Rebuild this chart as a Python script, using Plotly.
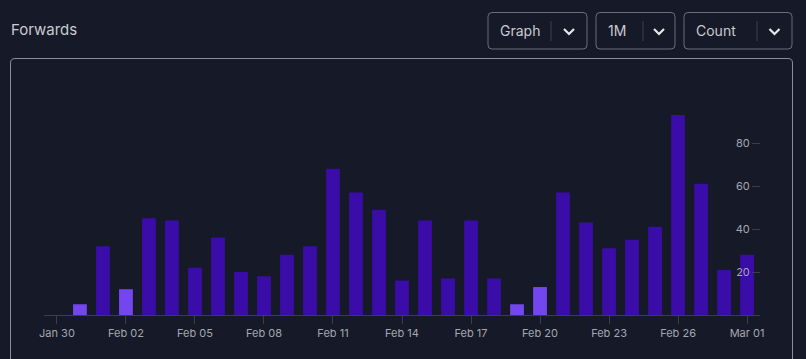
import plotly.graph_objects as go

# ---- data ----
dates = ["2023-01-31", "2023-02-01", "2023-02-02", "2023-02-03", "2023-02-04", "2023-02-05",
         "2023-02-06", "2023-02-07", "2023-02-08", "2023-02-09", "2023-02-10", "2023-02-11",
         "2023-02-12", "2023-02-13", "2023-02-14", "2023-02-15", "2023-02-16", "2023-02-17",
         "2023-02-18", "2023-02-19", "2023-02-20", "2023-02-21", "2023-02-22", "2023-02-23",
         "2023-02-24", "2023-02-25", "2023-02-26", "2023-02-27", "2023-02-28", "2023-03-01"]
forwards = [5, 32, 12, 45, 44, 22, 36, 20, 18, 28, 32, 68, 57, 49, 16, 44, 17, 44,
            17, 5, 13, 57, 43, 31, 35, 41, 93, 61, 21, 28]
highlighted = [True, False, True, False, False, False, False, False, False, False, False, False,
               False, False, False, False, False, False, False, True, True, False, False, False,
               False, False, False, False, False, False]
tick_dates = ["2023-01-30", "2023-02-02", "2023-02-05", "2023-02-08", "2023-02-11", "2023-02-14",
              "2023-02-17", "2023-02-20", "2023-02-23", "2023-02-26", "2023-03-01"]
tick_labels = ["Jan 30", "Feb 02", "Feb 05", "Feb 08", "Feb 11", "Feb 14",
               "Feb 17", "Feb 20", "Feb 23", "Feb 26", "Mar 01"]
y_ticks = [20, 40, 60, 80]
title_text = "Forwards"
dropdowns = ["Graph", "1M", "Count"]

# ---- styles ----
BG = "#161927"
DARK = "#3a0ca8"
LIGHT = "#7447ee"
TXT = "#c9cbd2"
W, H = 806, 359
ML, MR, MT, MB = 44, 46, 100, 44
PW, PH = W - ML - MR, H - MT - MB

def px(x):
    return (x - ML) / PW

def py(y):
    return (H - MB - y) / PH

colors = [LIGHT if h else DARK for h in highlighted]

fig = go.Figure(go.Bar(x=dates, y=forwards, marker=dict(color=colors, line=dict(width=0)),
                       width=0.6 * 86400000, hoverinfo="x+y"))

shapes = []
annotations = []

# panel border
shapes.append(dict(type="path", xref="paper", yref="paper",
                   path=f"M {px(10.5)},{py(380)} L {px(10.5)},{py(63)} Q {px(10.5)},{py(58.5)} {px(15)},{py(58.5)} "
                        f"L {px(788)},{py(58.5)} Q {px(792.5)},{py(58.5)} {px(792.5)},{py(63)} L {px(792.5)},{py(380)}",
                   line=dict(color="#8a8d98", width=1), layer="below"))

# title
annotations.append(dict(text=title_text, x=px(9), y=py(29), xref="paper", yref="paper",
                        xanchor="left", yanchor="middle", showarrow=False,
                        font=dict(family="Inter", size=15, color=TXT)))

# dropdown boxes
boxes = [(488, 587, 551), (596, 675, 643), (684, 792, 757)]
for label, (x0, x1, sep) in zip(dropdowns, boxes):
    r = 4
    shapes.append(dict(type="path", xref="paper", yref="paper",
                       path=(f"M {px(x0+r)},{py(12.5)} L {px(x1-r)},{py(12.5)} Q {px(x1)},{py(12.5)} {px(x1)},{py(12.5+r)} "
                             f"L {px(x1)},{py(49-r)} Q {px(x1)},{py(49)} {px(x1-r)},{py(49)} "
                             f"L {px(x0+r)},{py(49)} Q {px(x0)},{py(49)} {px(x0)},{py(49-r)} "
                             f"L {px(x0)},{py(12.5+r)} Q {px(x0)},{py(12.5)} {px(x0+r)},{py(12.5)} Z"),
                       line=dict(color="#6b6e79", width=1)))
    shapes.append(dict(type="line", xref="paper", yref="paper",
                       x0=px(sep), x1=px(sep), y0=py(21), y1=py(41),
                       line=dict(color="#3e4150", width=1)))
    cx = (sep + x1) / 2
    shapes.append(dict(type="path", xref="paper", yref="paper",
                       path=f"M {px(cx-5)},{py(29)} L {px(cx)},{py(34)} L {px(cx+5)},{py(29)}",
                       line=dict(color="#e6e7ea", width=2.2)))
    annotations.append(dict(text=label, x=px(x0 + 10), y=py(31), xref="paper", yref="paper",
                            xanchor="left", yanchor="middle", showarrow=False,
                            font=dict(family="Inter", size=14, color=TXT)))

fig.update_layout(
    width=W, height=H,
    margin=dict(l=ML, r=MR, t=MT, b=MB),
    paper_bgcolor=BG, plot_bgcolor=BG,
    showlegend=False,
    bargap=0.4,
    shapes=shapes, annotations=annotations,
    xaxis=dict(type="date", range=["2023-01-29 10:30", "2023-03-01 13:30"],
               tickvals=tick_dates, ticktext=tick_labels,
               showgrid=False, zeroline=False, showline=True, linecolor="#3a3d4a", linewidth=1,
               ticks="outside", ticklen=8, tickcolor="#3a3d4a", ticklabeloverflow="allow",
               tickfont=dict(family="Inter", size=11, color="#a4a7b0")),
    yaxis=dict(range=[0, 100], side="left", anchor="free", position=1, tickvals=y_ticks,
               showgrid=False, zeroline=False, showline=False,
               ticks="outside", ticklen=8, tickcolor="#3a3d4a",
               tickfont=dict(family="Inter", size=11, color="#a4a7b0")),
)

fig.write_html("out.html", config={"displayModeBar": False},
               post_script="document.body.style.margin='0';document.body.style.background='#161927';")
